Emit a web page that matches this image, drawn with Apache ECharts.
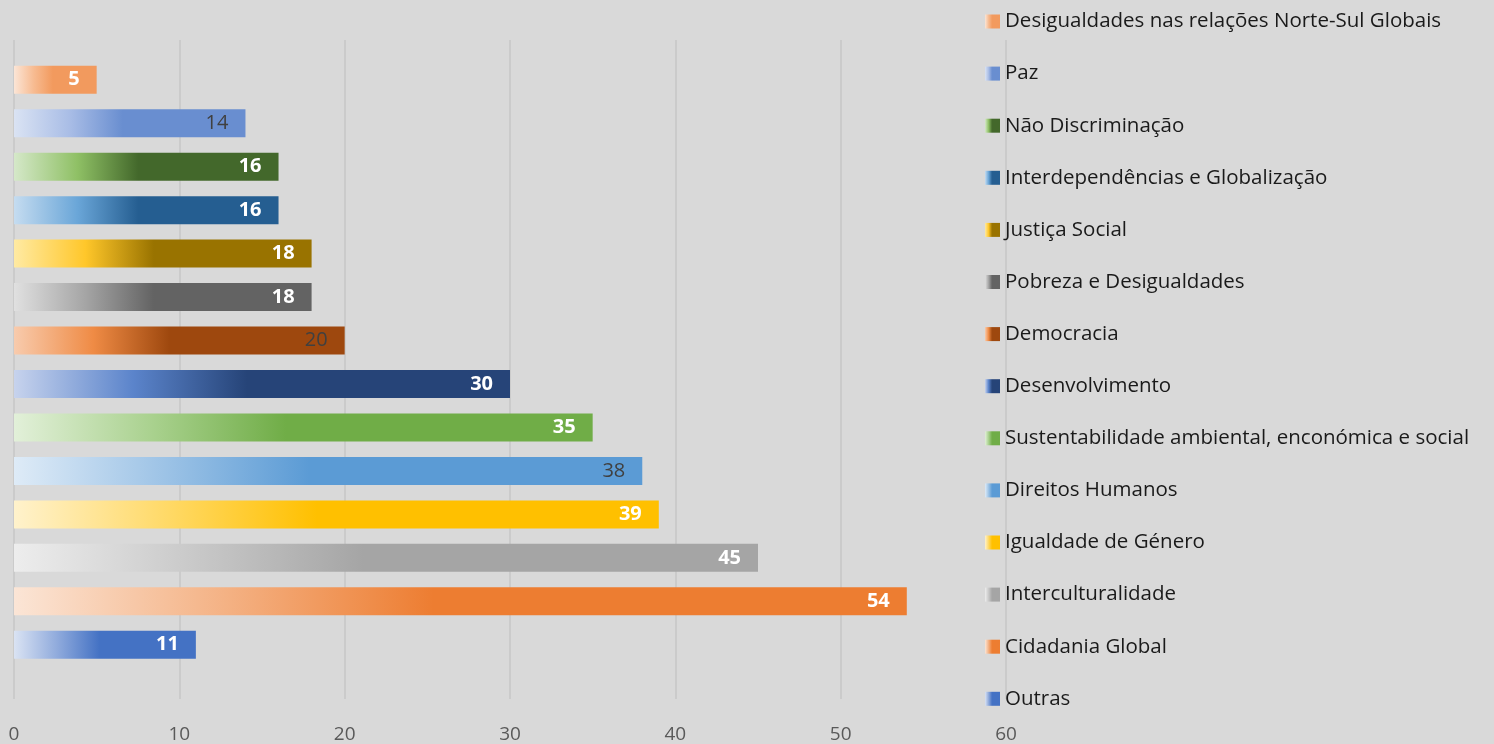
<!DOCTYPE html>
<html>
<head>
<meta charset="utf-8">
<script src="https://cdn.jsdelivr.net/npm/echarts@6/dist/echarts.min.js"></script>
<style>
  html, body { margin: 0; padding: 0; background: #d9d9d9; }
  #chart { width: 1494px; height: 744px; }
</style>
</head>
<body>
<div id="chart"></div>
<script>
// categories from bottom to top, as drawn
var categories = [
    'Outras',
    'Cidadania Global',
    'Interculturalidade',
    'Igualdade de Género',
    'Direitos Humanos',
    'Sustentabilidade ambiental, enconómica e social',
    'Desenvolvimento',
    'Democracia',
    'Pobreza e Desigualdades',
    'Justiça Social',
    'Interdependências e Globalização',
    'Não Discriminação',
    'Paz',
    'Desigualdades nas relações Norte-Sul Globais'
];
var values = [11, 54, 45, 39, 38, 35, 30, 20, 18, 18, 16, 16, 14, 5];
var xTicks = [0, 10, 20, 30, 40, 50, 60];

// light -> mid -> base colour of each bar gradient
var gradients = [
    ['#dae3f3', '#8faadc', '#4472c4'],
    ['#fbe5d6', '#f4b183', '#ed7d31'],
    ['#ededed', '#c9c9c9', '#a5a5a5'],
    ['#fff2cc', '#ffd966', '#ffc000'],
    ['#deebf7', '#9dc3e6', '#5b9bd5'],
    ['#e2f0d9', '#a9d18e', '#70ad47'],
    ['#c7d3ed', '#5b84cb', '#264478'],
    ['#f8cbad', '#ef8b45', '#9e480e'],
    ['#e0e0e0', '#a5a5a5', '#636363'],
    ['#ffeaa3', '#ffc72a', '#997300'],
    ['#c5dcf0', '#6aa6d8', '#255e91'],
    ['#d5e8c9', '#8fc065', '#43682b'],
    ['#dae3f3', '#a9bde6', '#698ed0'],
    ['#fbe5d6', '#f7bb91', '#f29a5e']
];
// labels drawn in dark normal weight instead of white bold
var darkLabels = ['Paz', 'Democracia', 'Direitos Humanos'];

var chart = echarts.init(document.getElementById('chart'));

var series = categories.map(function (name, i) {
    var data = categories.map(function (c, j) { return j === i ? values[i] : '-'; });
    var g = gradients[i];
    var dark = darkLabels.indexOf(name) >= 0;
    return {
        name: name,
        type: 'bar',
        stack: 'all',
        xAxisIndex: 1,
        yAxisIndex: 1,
        barWidth: 28,
        data: data,
        itemStyle: {
            color: new echarts.graphic.LinearGradient(0, 0, 1, 0, [
                { offset: 0, color: g[0] },
                { offset: 0.24, color: g[1] },
                { offset: 0.47, color: g[2] },
                { offset: 1, color: g[2] }
            ])
        },
        label: {
            show: true,
            position: 'insideRight',
            distance: 17,
            fontFamily: 'Open Sans',
            fontSize: 20,
            fontWeight: dark ? 'normal' : 'bold',
            color: dark ? '#404040' : '#ffffff'
        },
        emphasis: { disabled: true }
    };
});

var option = {
    backgroundColor: '#d9d9d9',
    animation: false,
    legend: {
        orient: 'vertical',
        left: 985,
        top: 11,
        padding: 0,
        itemWidth: 15,
        itemHeight: 14,
        itemGap: 31.1,
        icon: 'rect',
        data: categories.slice().reverse(),
        textStyle: {
            fontFamily: 'Open Sans',
            fontSize: 20.5,
            color: '#1a1a1a'
        }
    },
    grid: [
        { left: 14, right: 488, top: 40, bottom: 41 },
        { left: 14, right: 488, top: 58, height: 608.5 }
    ],
    xAxis: [
        {
            gridIndex: 0,
            type: 'value',
            min: xTicks[0],
            max: xTicks[xTicks.length - 1],
            interval: 10,
            axisLine: { show: false },
            axisTick: { show: false },
            axisLabel: {
                margin: 26,
                fontFamily: 'Open Sans',
                fontSize: 19,
                color: '#595959'
            },
            splitLine: { lineStyle: { color: '#c6c6c6', width: 1.5 } }
        },
        {
            gridIndex: 1,
            type: 'value',
            min: 0,
            max: 60,
            show: false
        }
    ],
    yAxis: [
        { gridIndex: 0, type: 'category', data: categories, show: false },
        { gridIndex: 1, type: 'category', data: categories, show: false }
    ],
    series: series
};
chart.setOption(option);
</script>
</body>
</html>
